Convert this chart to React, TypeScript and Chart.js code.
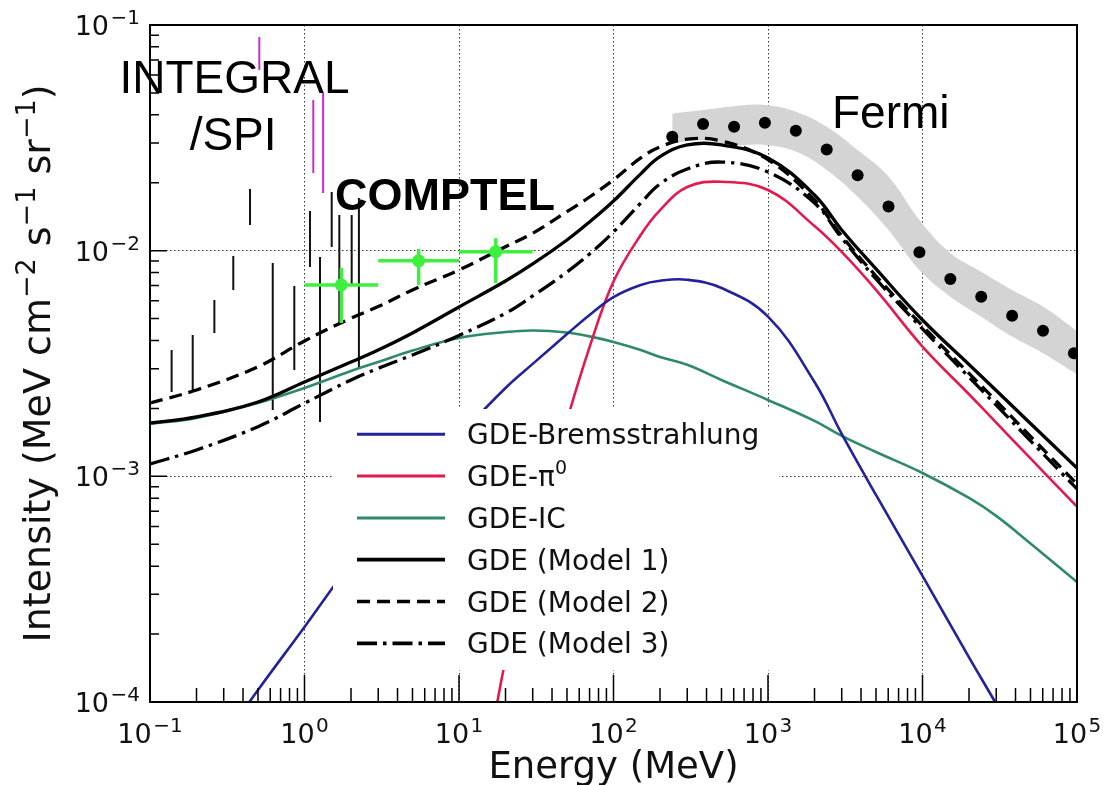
import React, { useEffect, useRef } from "react";
import { Chart, registerables } from "chart.js";

Chart.register(...registerables);

// ---------------- data (MeV, MeV cm^-2 s^-1 sr^-1) ----------------
const E_GRID = [0.1, 0.2, 0.5, 1, 2, 3, 5, 10, 20, 30, 50, 70, 100, 150, 200, 300, 500, 1000, 2000, 3000, 5000, 10000, 20000, 30000, 50000, 100000];
const GDE_MODEL1 = [1.724e-3, 1.833e-3, 2.136e-3, 2.619e-3, 3.21e-3, 3.63e-3, 4.32e-3, 5.63e-3, 7.34e-3, 8.73e-3, 1.115e-2, 1.34e-2, 1.659e-2, 2.19e-2, 2.61e-2, 2.94e-2, 2.94e-2, 2.575e-2, 1.765e-2, 1.235e-2, 8.3e-3, 4.93e-3, 3.13e-3, 2.402e-3, 1.715e-3, 1.089e-3];
const GDE_MODEL2 = [2.114e-3, 2.414e-3, 3.06e-3, 3.98e-3, 5.02e-3, 5.65e-3, 6.7e-3, 8.21e-3, 1.041e-2, 1.194e-2, 1.489e-2, 1.729e-2, 2.06e-2, 2.575e-2, 2.88e-2, 3.12e-2, 3.06e-2, 2.53e-2, 1.677e-2, 1.162e-2, 7.72e-3, 4.64e-3, 2.857e-3, 2.158e-3, 1.504e-3, 9.25e-4];
const GDE_MODEL3 = [1.135e-3, 1.309e-3, 1.66e-3, 2.108e-3, 2.674e-3, 3.01e-3, 3.45e-3, 4.21e-3, 5.28e-3, 6.3e-3, 8.04e-3, 9.67e-3, 1.21e-2, 1.626e-2, 1.975e-2, 2.3e-2, 2.47e-2, 2.23e-2, 1.625e-2, 1.138e-2, 7.49e-3, 4.5e-3, 2.751e-3, 2.067e-3, 1.437e-3, 8.79e-4];
const GDE_IC = [1.707e-3, 1.815e-3, 2.114e-3, 2.464e-3, 2.93e-3, 3.21e-3, 3.61e-3, 4.1e-3, 4.36e-3, 4.43e-3, 4.34e-3, 4.17e-3, 3.94e-3, 3.63e-3, 3.38e-3, 3.12e-3, 2.674e-3, 2.18e-3, 1.76e-3, 1.51e-3, 1.282e-3, 1.035e-3, 8.02e-4, 6.68e-4, 5.04e-4, 3.4e-4];

const BREMS_E = [0.3, 0.5, 1, 2, 5, 10, 20, 30, 50, 70, 100, 150, 200, 300, 500, 1000, 2000, 3000, 5000, 10000, 20000, 30000, 50000];
const GDE_BREMS = [6.9e-5, 1.13e-4, 2.15e-4, 4.13e-4, 8.97e-4, 1.51e-3, 2.464e-3, 3.15e-3, 4.27e-3, 5.19e-3, 6.23e-3, 7.05e-3, 7.36e-3, 7.43e-3, 6.83e-3, 5.1e-3, 2.62e-3, 1.541e-3, 8.27e-4, 3.62e-4, 1.576e-4, 9.8e-5, 5.26e-5];

const PI0_E = [16, 20, 30, 50, 70, 100, 150, 200, 300, 500, 1000, 2000, 3000, 5000, 10000, 20000, 30000, 50000, 100000];
const GDE_PI0 = [6.8e-5, 1.536e-4, 5.02e-4, 1.769e-3, 3.74e-3, 7.3e-3, 1.174e-2, 1.513e-2, 1.915e-2, 2.02e-2, 1.857e-2, 1.286e-2, 9.87e-3, 6.7e-3, 3.76e-3, 2.31e-3, 1.73e-3, 1.2e-3, 7.34e-4];

// INTEGRAL/SPI
const SPI_E = [0.138, 0.189, 0.261, 0.346, 0.444, 0.623, 0.859, 1.085, 1.26, 1.5, 1.68, 2.02, 2.25];
const SPI_LO = [2.366e-3, 2.414e-3, 4.32e-3, 6.7e-3, 1.3e-2, 1.969e-3, 2.96e-3, 8.47e-3, 1.742e-3, 1.038e-2, 4.78e-3, 7.05e-3, 3.02e-3];
const SPI_HI = [3.63e-3, 4.23e-3, 6.05e-3, 9.47e-3, 1.877e-2, 8.82e-3, 6.98e-3, 1.5e-2, 9.38e-3, 1.82e-2, 1.44e-2, 1.44e-2, 1.712e-2];
const SPI_LINE_E = [0.51, 1.14, 1.32];
const SPI_LINE_LO = [6.32e-2, 2.21e-2, 1.8e-2];
const SPI_LINE_HI = [8.85e-2, 4.65e-2, 5.0e-2];

// COMPTEL
const COMPTEL_E = [1.73, 5.48, 17.3];
const COMPTEL_E_LO = [1.0, 3.0, 10.0];
const COMPTEL_E_HI = [3.0, 10.0, 30.0];
const COMPTEL_FLUX = [7.05e-3, 9.03e-3, 9.9e-3];
const COMPTEL_FLUX_LO = [4.78e-3, 7.05e-3, 7.17e-3];
const COMPTEL_FLUX_HI = [8.38e-3, 1.02e-2, 1.135e-2];

// Fermi
const FERMI_E = [240, 380, 603, 955, 1514, 2399, 3802, 6026, 9550, 15136, 23988, 38019, 60256, 95499];
const FERMI_FLUX = [0.032, 0.0364, 0.0354, 0.0369, 0.034, 0.0281, 0.0216, 0.0157, 0.00984, 0.00749, 0.00625, 0.00515, 0.00442, 0.00351];
const FERMI_BAND_E = [240, 380, 603, 955, 1514, 2399, 3802, 6026, 9550, 15136, 23988, 38019, 60256, 100000];
const FERMI_BAND_HI = [0.0405, 0.042, 0.0437, 0.0442, 0.0413, 0.0354, 0.0279, 0.0213, 0.01368, 0.00977, 0.00807, 0.0067, 0.00565, 0.0044];
const FERMI_BAND_LO = [0.0298, 0.0309, 0.0294, 0.0294, 0.0275, 0.0228, 0.01735, 0.01235, 0.00821, 0.00625, 0.0051, 0.00416, 0.00351, 0.00283];

// axes
const X_TICKS = [0.1, 1, 10, 100, 1000, 10000, 100000];
const Y_TICKS = [1e-4, 1e-3, 1e-2, 1e-1];
const MINOR_STEPS = [2, 3, 4, 5, 6, 7, 8, 9];

const LEGEND_LABELS = ["GDE-Bremsstrahlung", "GDE-π|0", "GDE-IC", "GDE (Model 1)", "GDE (Model 2)", "GDE (Model 3)"];
const ANNOTATIONS = [
  { text: "INTEGRAL", e: 0.352, i: 0.05, align: "center", bold: false },
  { text: "/SPI", e: 0.345, i: 0.0279, align: "center", bold: false },
  { text: "COMPTEL", e: 1.575, i: 0.01515, align: "left", bold: true },
  { text: "Fermi", e: 2594, i: 0.035, align: "left", bold: false },
];

// ---------------- styles ----------------
const STY = {
  brems: { color: "#22229a", width: 2.6, dash: [] as number[] },
  pi0: { color: "#e31a4c", width: 2.6, dash: [] as number[] },
  ic: { color: "#2f8a68", width: 2.6, dash: [] as number[] },
  m1: { color: "#000000", width: 3.3, dash: [] as number[] },
  m2: { color: "#000000", width: 3.3, dash: [13, 7] },
  m3: { color: "#000000", width: 3.3, dash: [20, 6, 3.5, 6] },
};
const LEGEND_STYLES = [STY.brems, STY.pi0, STY.ic, STY.m1, STY.m2, STY.m3];
const COMPTEL_GREEN = "#3ef03e";
const DEJAVU = '"DejaVu Sans", sans-serif';
const LIB = '"Liberation Sans", Arial, sans-serif';

const xy = (xs: number[], ys: number[]) => xs.map((x, i) => ({ x, y: ys[i] }));
const vbars = (xs: number[], lo: number[], hi: number[]) =>
  xs.flatMap((x, i) => [{ x, y: lo[i] }, { x, y: hi[i] }, { x, y: null as any }]);
const hbars = (xlo: number[], xhi: number[], ys: number[]) =>
  ys.flatMap((y, i) => [{ x: xlo[i], y }, { x: xhi[i], y }, { x: xhi[i], y: null as any }]);

const curve = (data: any[], st: any, order: number) => ({
  data,
  showLine: true,
  borderColor: st.color,
  borderWidth: st.width,
  borderDash: st.dash,
  pointRadius: 0,
  tension: 0.4,
  fill: false,
  order,
  clip: 1,
});

type Part = { t: string; sup?: boolean; gap?: number };
function drawRich(ctx: CanvasRenderingContext2D, parts: Part[], x: number, y: number, align: string, family: string, size: number, supSize: number, raise: number, weight = "normal") {
  const fontFor = (p: Part) => `${weight} ${p.sup ? supSize : size}px ${family}`;
  let w = 0;
  for (const p of parts) {
    ctx.font = fontFor(p);
    w += ctx.measureText(p.t).width + (p.gap || 0);
  }
  let cx = align === "center" ? x - w / 2 : align === "right" ? x - w : x;
  ctx.textAlign = "left";
  ctx.textBaseline = "alphabetic";
  for (const p of parts) {
    ctx.font = fontFor(p);
    cx += p.gap || 0;
    ctx.fillText(p.t, cx, p.sup ? y - raise : y);
    cx += ctx.measureText(p.t).width;
  }
}
const powParts = (v: number): Part[] => {
  const e = Math.round(Math.log10(v));
  return [{ t: "10" }, { t: e < 0 ? "−" + Math.abs(e) : String(e), sup: true, gap: 1.5 }];
};

const decorPlugin = {
  id: "decor",
  afterDatasetsDraw(chart: any) {
    const { ctx, chartArea: a, scales } = chart;
    const xs = scales.x;
    const ys = scales.y;
    ctx.save();

    // legend box
    ctx.fillStyle = "#ffffff";
    ctx.fillRect(333, 409, 446, 261);
    LEGEND_LABELS.forEach((lab, i) => {
      const st = LEGEND_STYLES[i];
      const ry = 434.3 + i * 41.8;
      ctx.beginPath();
      ctx.setLineDash(st.dash);
      ctx.strokeStyle = st.color;
      ctx.lineWidth = st.width + 0.4;
      ctx.moveTo(357, ry);
      ctx.lineTo(445, ry);
      ctx.stroke();
      ctx.setLineDash([]);
      ctx.fillStyle = "#111";
      const [main, sup] = lab.split("|");
      const parts: Part[] = [{ t: main }];
      if (sup) parts.push({ t: sup, sup: true });
      drawRich(ctx, parts, 467, ry + 10, "left", DEJAVU, 28, 19, 12);
    });

    // ticks (inward)
    ctx.strokeStyle = "#000";
    ctx.lineWidth = 1.5;
    ctx.setLineDash([]);
    ctx.beginPath();
    X_TICKS.forEach((d, k) => {
      const steps = k < X_TICKS.length - 1 ? [1, ...MINOR_STEPS] : [1];
      steps.forEach((m) => {
        const px = xs.getPixelForValue(d * m);
        const len = m === 1 ? 27 : 14;
        ctx.moveTo(px, a.bottom);
        ctx.lineTo(px, a.bottom - len);
      });
    });
    Y_TICKS.forEach((d, k) => {
      const steps = k < Y_TICKS.length - 1 ? [1, ...MINOR_STEPS] : [1];
      steps.forEach((m) => {
        const py = ys.getPixelForValue(d * m);
        const len = m === 1 ? 17 : 9;
        ctx.moveTo(a.left, py);
        ctx.lineTo(a.left + len, py);
      });
    });
    ctx.stroke();

    // frame
    ctx.lineWidth = 2;
    ctx.strokeRect(a.left, a.top, a.right - a.left, a.bottom - a.top);

    // tick labels
    ctx.fillStyle = "#111";
    Y_TICKS.forEach((v) => {
      const py = ys.getPixelForValue(v);
      drawRich(ctx, powParts(v), a.left - 10, py + 10, "right", DEJAVU, 27, 20, 11);
    });
    X_TICKS.forEach((v) => {
      const px = xs.getPixelForValue(v);
      drawRich(ctx, powParts(v), px, 743, "center", DEJAVU, 27, 20, 11);
    });

    // axis titles
    drawRich(ctx, [{ t: "Energy (MeV)" }], (a.left + a.right) / 2, 778, "center", DEJAVU, 37, 25, 14);
    ctx.save();
    ctx.translate(50, (a.top + a.bottom) / 2);
    ctx.rotate(-Math.PI / 2);
    drawRich(
      ctx,
      [
        { t: "Intensity (MeV cm" },
        { t: "−2", sup: true },
        { t: " s" },
        { t: "−1", sup: true },
        { t: " sr" },
        { t: "−1", sup: true },
        { t: ")" },
      ],
      0,
      0,
      "center",
      DEJAVU,
      38,
      27,
      15
    );
    ctx.restore();

    // annotations
    ctx.fillStyle = "#000";
    ANNOTATIONS.forEach((an) => {
      const px = xs.getPixelForValue(an.e);
      const py = ys.getPixelForValue(an.i);
      drawRich(ctx, [{ t: an.text }], px, py, an.align, LIB, an.bold ? 45 : 46, 30, 10, an.bold ? "bold" : "normal");
    });

    ctx.restore();
  },
};

export default function App() {
  const ref = useRef<HTMLCanvasElement>(null);
  useEffect(() => {
    document.body.style.margin = "0";
    const canvas = ref.current;
    if (!canvas) return;
    const datasets: any[] = [
      {
        data: xy(FERMI_BAND_E, FERMI_BAND_HI),
        showLine: true,
        borderWidth: 0,
        borderColor: "rgba(0,0,0,0)",
        pointRadius: 0,
        backgroundColor: "#d4d4d4",
        fill: "+1",
        tension: 0.4,
        order: 100,
      },
      {
        data: xy(FERMI_BAND_E, FERMI_BAND_LO),
        showLine: true,
        borderWidth: 0,
        borderColor: "rgba(0,0,0,0)",
        pointRadius: 0,
        fill: false,
        tension: 0.4,
        order: 101,
      },
      {
        data: vbars(SPI_E, SPI_LO, SPI_HI),
        showLine: true,
        borderColor: "#111111",
        borderWidth: 2,
        pointRadius: 0,
        tension: 0,
        order: 60,
      },
      {
        data: vbars(SPI_LINE_E, SPI_LINE_LO, SPI_LINE_HI),
        showLine: true,
        borderColor: "#cc2ccc",
        borderWidth: 2,
        pointRadius: 0,
        tension: 0,
        order: 59,
      },
      curve(xy(E_GRID, GDE_IC), STY.ic, 40),
      curve(xy(PI0_E, GDE_PI0), STY.pi0, 39),
      curve(xy(BREMS_E, GDE_BREMS), STY.brems, 38),
      curve(xy(E_GRID, GDE_MODEL3), STY.m3, 30),
      curve(xy(E_GRID, GDE_MODEL2), STY.m2, 29),
      curve(xy(E_GRID, GDE_MODEL1), STY.m1, 28),
      {
        data: [...hbars(COMPTEL_E_LO, COMPTEL_E_HI, COMPTEL_FLUX), ...vbars(COMPTEL_E, COMPTEL_FLUX_LO, COMPTEL_FLUX_HI)],
        showLine: true,
        borderColor: COMPTEL_GREEN,
        borderWidth: 3.5,
        pointRadius: 0,
        tension: 0,
        order: 10,
      },
      {
        data: xy(COMPTEL_E, COMPTEL_FLUX),
        showLine: false,
        pointRadius: 6.5,
        pointBackgroundColor: COMPTEL_GREEN,
        pointBorderWidth: 0,
        order: 9,
      },
      {
        data: xy(FERMI_E, FERMI_FLUX),
        showLine: false,
        pointRadius: 6,
        pointBackgroundColor: "#000",
        pointBorderWidth: 0,
        order: 5,
      },
    ];
    const chart = new Chart(canvas, {
      type: "scatter",
      data: { datasets },
      options: {
        animation: false,
        responsive: false,
        devicePixelRatio: 1,
        events: [],
        layout: { padding: { left: 0, right: 27, top: 25, bottom: 0 } },
        plugins: { legend: { display: false }, tooltip: { enabled: false } },
        scales: {
          x: {
            type: "logarithmic",
            min: 0.1,
            max: 1e5,
            afterBuildTicks: (s: any) => {
              s.ticks = X_TICKS.map((v) => ({ value: v }));
            },
            afterFit: (s: any) => {
              s.height = 83;
            },
            ticks: { display: false },
            grid: { color: "rgba(0,0,0,0.8)", lineWidth: 1, drawTicks: false },
            border: { display: false, dash: [1.5, 2.5] },
          },
          y: {
            type: "logarithmic",
            min: 1e-4,
            max: 1e-1,
            afterBuildTicks: (s: any) => {
              s.ticks = Y_TICKS.map((v) => ({ value: v }));
            },
            afterFit: (s: any) => {
              s.width = 150;
            },
            ticks: { display: false },
            grid: { color: "rgba(0,0,0,0.8)", lineWidth: 1, drawTicks: false },
            border: { display: false, dash: [1.5, 2.5] },
          },
        },
      } as any,
      plugins: [decorPlugin],
    });
    return () => chart.destroy();
  }, []);
  return (
    <div style={{ position: "absolute", left: 0, top: 0, width: 1104, height: 785, background: "#fff" }}>
      <canvas ref={ref} width={1104} height={785} style={{ display: "block", width: 1104, height: 785 }} />
    </div>
  );
}
